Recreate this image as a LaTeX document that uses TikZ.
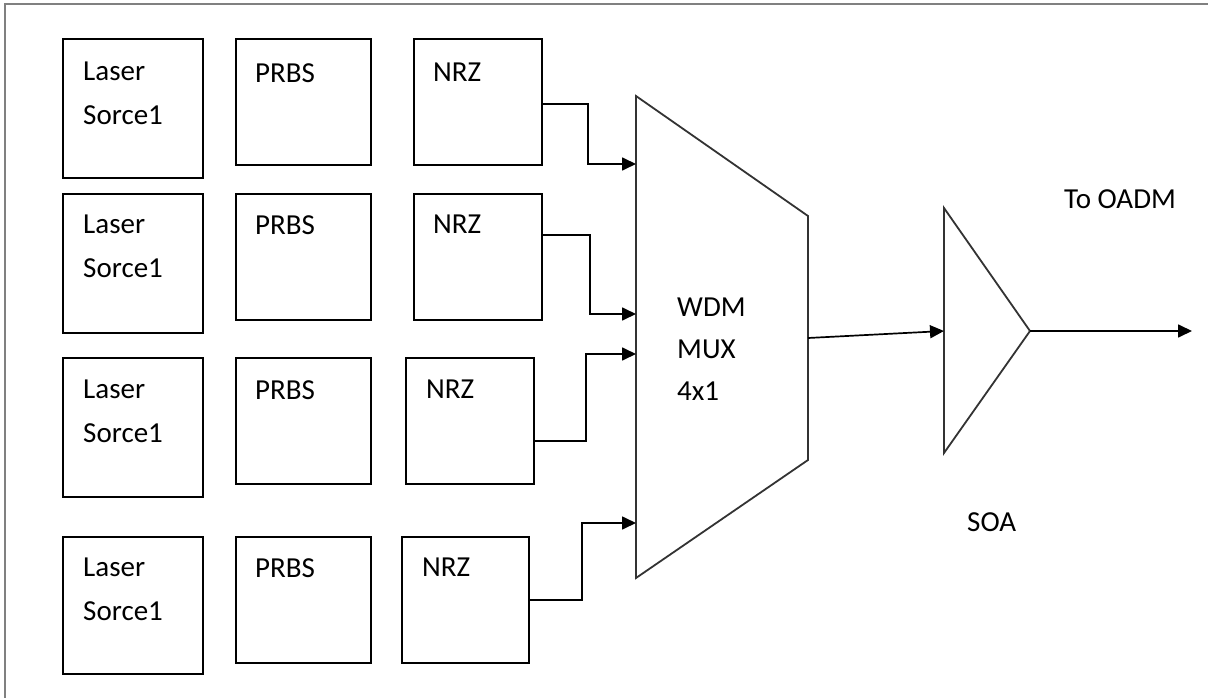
\documentclass[tikz,border=0pt]{standalone}
\usepackage{fontspec}
\setmainfont{Carlito}
\usepackage{tikz}
\usetikzlibrary{arrows.meta}

\begin{document}
\begin{tikzpicture}[
    x=1pt, y=-1pt,
    blk/.style = {
        draw, line width=2.2pt, anchor=north west, inner sep=0pt
    },
    lasbox/.style = {blk, minimum width=140pt, minimum height=139pt},
    prbox/.style  = {blk, minimum width=135pt, minimum height=126pt},
    nrbox/.style  = {blk, minimum width=128pt, minimum height=126pt},
    txt/.style = {
        anchor=north west, inner sep=0pt, align=left,
        font=\fontsize{29}{44}\selectfont
    },
    arr/.style  = {-{Triangle[length=14pt, width=13pt]}, line width=1.7pt},
    part/.style = {line width=1.8pt, draw=black!80, line join=miter}
]
\useasboundingbox (0,0) rectangle (1208,698);

%% ---- FRAME ----
\draw[gray, line width=1.8pt] (5,698) -- (5,4) -- (1208,4);

%% ---- ROW 1 ----
\node[lasbox] (las1)  at (62,38)  {};
\node[prbox]  (prbs1) at (235,38) {};
\node[nrbox]  (nrz1)  at (413,38) {};
\node[txt] (las1t)  at (83,62)  {Laser\\Sorce1};
\node[txt] (prbs1t) at (255,63) {PRBS};
\node[txt] (nrz1t)  at (433,63) {NRZ};

%% ---- ROW 2 ----
\node[lasbox] (las2)  at (62,193)  {};
\node[prbox]  (prbs2) at (235,193) {};
\node[nrbox]  (nrz2)  at (413,193) {};
\node[txt] (las2t)  at (83,215)  {Laser\\Sorce1};
\node[txt] (prbs2t) at (255,215) {PRBS};
\node[txt] (nrz2t)  at (433,215) {NRZ};

%% ---- ROW 3 ----
\node[lasbox] (las3)  at (62,357)  {};
\node[prbox]  (prbs3) at (235,357) {};
\node[nrbox]  (nrz3)  at (405,357) {};
\node[txt] (las3t)  at (83,380)  {Laser\\Sorce1};
\node[txt] (prbs3t) at (255,380) {PRBS};
\node[txt] (nrz3t)  at (426,380) {NRZ};

%% ---- ROW 4 ----
\node[lasbox, minimum height=137pt] (las4) at (62,536) {};
\node[prbox]  (prbs4) at (235,536) {};
\node[nrbox, minimum width=127pt] (nrz4) at (401,536) {};
\node[txt] (las4t)  at (83,558)  {Laser\\Sorce1};
\node[txt] (prbs4t) at (255,558) {PRBS};
\node[txt] (nrz4t)  at (422,558) {NRZ};

%% ---- WDM MUX ----
\coordinate (muxtl) at (636,96);
\coordinate (muxtr) at (808,216);
\coordinate (muxbr) at (808,460);
\coordinate (muxbl) at (636,578);
\draw[part] (muxtl) -- (muxtr) -- (muxbr) -- (muxbl) -- cycle;
\node[txt, font=\fontsize{29}{42}\selectfont] (muxt) at (677,298) {WDM\\MUX\\4x1};

\coordinate (in1) at (636,164);
\coordinate (in2) at (636,314);
\coordinate (in3) at (636,354);
\coordinate (in4) at (636,523);
\coordinate (muxout) at (808,338);

%% ---- SOA ----
\coordinate (soatop) at (944,208);
\coordinate (soabot) at (944,453);
\coordinate (soatip) at (1030,331);
\coordinate (soain)  at (944,331);
\draw[part] (soatop) -- (soatip) -- (soabot) -- cycle;
\node[txt] (soat)  at (967,512)  {SOA};
\node[txt] (oadmt) at (1064,189) {To OADM};
\coordinate (oadm) at (1192,331);

%% ---- ARROWS ----
\draw[arr] ([yshift=-2pt]nrz1.east)  -- ++(45,0) |- (in1);
\draw[arr] ([yshift=22pt]nrz2.east)  -- ++(47,0) |- (in2);
\draw[arr] ([yshift=-20pt]nrz3.east) -- ++(51,0) |- (in3);
\draw[arr] (nrz4.east)               -- ++(52,0) |- (in4);

\draw[arr] (muxout) -- (soain);
\draw[arr] (soatip) -- (oadm);

\end{tikzpicture}
\end{document}
